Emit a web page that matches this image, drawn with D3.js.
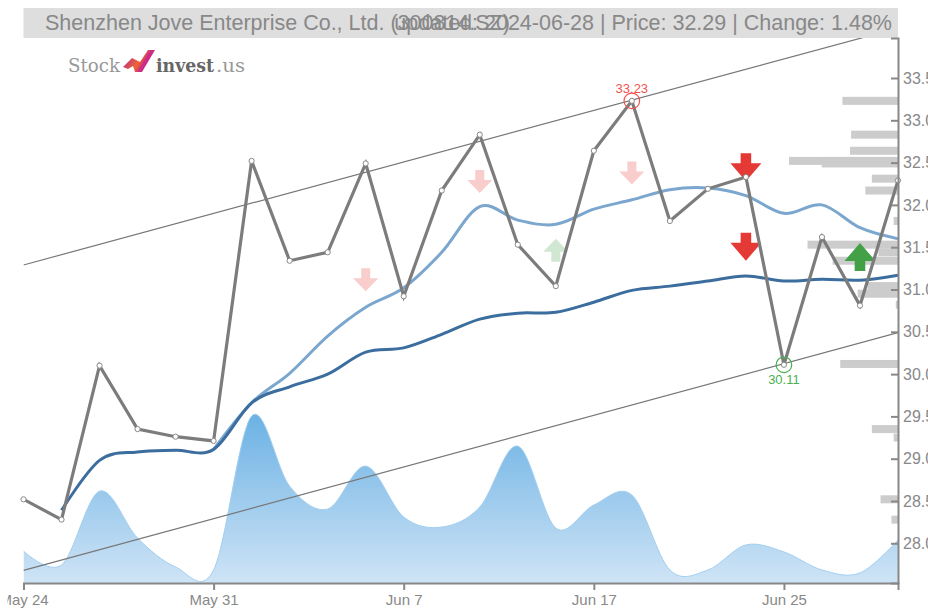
<!DOCTYPE html>
<html><head><meta charset="utf-8">
<script src="https://cdn.jsdelivr.net/npm/d3@7/dist/d3.min.js"></script>
<style>html,body{margin:0;padding:0;background:#fff;overflow:hidden}svg{display:block;font-family:"Liberation Sans",Arial,sans-serif}</style>
</head><body><div id="chart"></div>
<script>
const dates = ["May 24","May 27","May 28","May 29","May 30","May 31","Jun 3","Jun 4","Jun 5","Jun 6","Jun 7","Jun 11","Jun 12","Jun 13","Jun 14","Jun 17","Jun 18","Jun 19","Jun 20","Jun 21","Jun 25","Jun 26","Jun 27","Jun 28"];
const xTickLabels = ["May 24","May 31","Jun 7","Jun 17","Jun 25"];
const yTicks = [28,28.5,29,29.5,30,30.5,31,31.5,32,32.5,33,33.5];
const price = [28.52,28.28,30.10,29.35,29.26,29.21,32.52,31.34,31.44,32.49,30.92,32.17,32.83,31.53,31.04,32.64,33.23,31.81,32.19,32.33,30.11,31.62,30.81,32.29];
const maLong = [null,28.39,28.98,29.08,29.10,29.11,29.66,29.85,30.00,30.26,30.31,30.47,30.65,30.72,30.73,30.85,30.99,31.04,31.10,31.16,31.10,31.12,31.11,31.17];
const maShort = [null,null,null,null,null,29.11,29.66,30.01,30.45,30.79,31.02,31.44,31.98,31.82,31.77,31.95,32.06,32.18,32.20,32.11,31.90,32.00,31.73,31.60];
const volume = [1.92,1.08,5.5,2.69,0.96,0.78,10,5.8,4.43,7.0,3.95,3.35,4.55,8.2,3.29,4.67,5.27,0.78,0.78,2.28,1.86,0.78,0.6,2.57];
const upperTrend = [31.29,34.09];
const lowerTrend = [27.68,30.49];
const profilePrice = [33.23,32.83,32.64,32.52,32.49,32.31,32.17,31.81,31.53,31.44,31.34,31.04,30.95,30.82,30.12,29.35,29.25,28.52,28.28];
const profileVolume = [5.1,4.3,4.4,10,7,2.4,3,0.4,8.3,1.8,6,2.8,3.7,0.2,5.3,2.4,0.4,1.6,0.6];
const arrowIndex = [9,12,16,14,19,19,22];
const arrowPrice = [30.98,32.14,32.24,31.60,32.28,31.34,31.55];
const arrowDir = ["down","down","down","up","down","down","up"];
const arrowStrong = [false,false,false,false,true,true,true];
const highIndex = 16, lowIndex = 20;
const companyTitle = "Shenzhen Jove Enterprise Co., Ltd. (300814.SZ)";
const statusTitle = "updated: 2024-06-28 | Price: 32.29 | Change: 1.48%";

const W = 928, H = 610, L = 23.5, R = 898, T = 38, B = 583;
const svg = d3.select("#chart").append("svg").attr("width", W).attr("height", H);
const x = d3.scalePoint().domain(dates).range([L, R]);
const xi = i => x(dates[i]);
const y = d3.scaleLinear().domain([33.5 - (B - 78) / 84.6, 33.5 + (78 - T) / 84.6]).range([B, T]);
const v = d3.scaleLinear().domain([0, 10]).range([B, 416]);
const pv = d3.scaleLinear().domain([0, 10]).range([R, R - 109]);
const smooth = d3.curveCardinal.tension(0);

const defs = svg.append("defs");
defs.append("clipPath").attr("id", "plot").append("rect").attr("x", L).attr("y", T).attr("width", R - L).attr("height", B - T);
defs.append("clipPath").attr("id", "xclipLocal").append("rect").attr("x", 7.5).attr("y", -5).attr("width", W).attr("height", 40);
const g = defs.append("linearGradient").attr("id", "vol").attr("gradientUnits", "userSpaceOnUse").attr("x1", 0).attr("x2", 0).attr("y1", 416).attr("y2", B);
g.append("stop").attr("offset", 0).attr("stop-color", "#6cb2e4");
g.append("stop").attr("offset", 1).attr("stop-color", "#cfe4f6");
const lg = defs.append("linearGradient").attr("id", "logo").attr("x1", 0).attr("x2", 1).attr("y1", 0.2).attr("y2", 0.6);
lg.append("stop").attr("offset", 0).attr("stop-color", "#b0269b");
lg.append("stop").attr("offset", 0.55).attr("stop-color", "#f0652f");
lg.append("stop").attr("offset", 0.7).attr("stop-color", "#c92d86");
lg.append("stop").attr("offset", 1).attr("stop-color", "#d81b7a");

// title band
svg.append("rect").attr("x", L).attr("y", 8).attr("width", R - L).attr("height", 30).attr("fill", "#dedede");
svg.append("text").attr("x", 45).attr("y", 30).attr("font-size", 21.5).attr("fill", "#888").text(companyTitle);
svg.append("text").attr("x", 892).attr("y", 30).attr("font-size", 21.5).attr("fill", "#888").attr("text-anchor", "end").text(statusTitle);

// logo
const logo = svg.append("g");
const logoText = (tx, w, weight, fill, s) => logo.append("text").attr("x", tx).attr("y", 71.5)
  .attr("font-family", "DejaVu Serif").attr("font-weight", weight).attr("font-size", 19).attr("fill", fill)
  .attr("textLength", w).attr("lengthAdjust", "spacingAndGlyphs").text(s);
logoText(68, 52, "normal", "#999", "Stock");
logo.append("path").attr("d", "M123,67 L132,58 L140,62 L148,50 L155,50 L142,72 L135,72 L133,66 L128,69 Z").attr("fill", "url(#logo)");
logoText(156, 58, "bold", "#666", "invest");
logoText(216, 29, "normal", "#999", ".us");

const plot = svg.append("g").attr("clip-path", "url(#plot)");

// volume area
plot.append("path").datum(volume)
  .attr("d", d3.area().x((d, i) => xi(i)).y0(B).y1(d => v(d)).curve(smooth))
  .attr("fill", "url(#vol)");
plot.append("path").datum(volume)
  .attr("d", d3.line().x((d, i) => xi(i)).y(d => v(d)).curve(smooth))
  .attr("fill", "none").attr("stroke", "#a3cfef").attr("stroke-width", 1);

// volume-by-price bars
plot.selectAll("rect.profile").data(profilePrice).join("rect").attr("class", "profile")
  .attr("x", (d, i) => pv(profileVolume[i]))
  .attr("y", d => y(d) - 4)
  .attr("width", (d, i) => R - pv(profileVolume[i]))
  .attr("height", 8)
  .attr("fill", "#cccccc");

// channel
[upperTrend, lowerTrend].forEach(t => {
  plot.append("line").attr("x1", xi(0)).attr("x2", xi(dates.length - 1)).attr("y1", y(t[0])).attr("y2", y(t[1]))
    .attr("stroke", "#777").attr("stroke-width", 1.2);
});

// moving averages
const ma = d3.line().defined(d => d !== null).x((d, i) => xi(i)).y(d => y(d)).curve(smooth);
plot.append("path").attr("d", ma(maShort)).attr("fill", "none").attr("stroke", "#7ba7cf").attr("stroke-width", 3);
plot.append("path").attr("d", ma(maLong)).attr("fill", "none").attr("stroke", "#3b6d9f").attr("stroke-width", 3);

// arrows
function arrowPath(dir, strong) {
  const hw = strong ? 15.5 : 12.5, sw = strong ? 5.3 : 4.5, head = strong ? 18 : 13, tot = strong ? 28 : 23;
  const s = dir === "down" ? -1 : 1;
  return d3.line()([[0,0],[hw,s*head],[sw,s*head],[sw,s*tot],[-sw,s*tot],[-sw,s*head],[-hw,s*head]]) + "Z";
}
plot.selectAll("path.arrow").data(arrowIndex).join("path").attr("class", "arrow")
  .attr("transform", (d, i) => `translate(${xi(d)},${y(arrowPrice[i])})`)
  .attr("d", (d, i) => arrowPath(arrowDir[i], arrowStrong[i]))
  .attr("fill", (d, i) => arrowDir[i] === "down" ? "#e53935" : "#43a047")
  .attr("opacity", (d, i) => arrowStrong[i] ? 1 : 0.25);

// price
plot.append("path").datum(price).attr("d", d3.line().x((d, i) => xi(i)).y(d => y(d)))
  .attr("fill", "none").attr("stroke", "#7c7c7c").attr("stroke-width", 3.2);
svg.selectAll("circle.pt").data(price).join("circle").attr("class", "pt")
  .attr("cx", (d, i) => xi(i)).attr("cy", d => y(d)).attr("r", 2.6)
  .attr("fill", "#fff").attr("stroke", "#888").attr("stroke-width", 1);

// high / low
[[highIndex, "#ef5350", -8], [lowIndex, "#4caf50", 19]].forEach(([i, c, dy]) => {
  svg.append("circle").attr("cx", xi(i)).attr("cy", y(price[i])).attr("r", 7.8).attr("fill", "none").attr("stroke", c).attr("stroke-width", 1.2);
  svg.append("text").attr("x", xi(i)).attr("y", y(price[i]) + dy).attr("text-anchor", "middle").attr("font-size", 13).attr("fill", c).text(price[i].toFixed(2));
});

// axes
const yAxis = svg.append("g").attr("transform", `translate(${R},0)`)
  .call(d3.axisRight(y).tickValues(yTicks).tickFormat(d3.format(".1f")).tickSizeInner(-7).tickSizeOuter(-7).tickPadding(5));
const xAxis = svg.append("g").attr("transform", `translate(0,${B})`).attr("clip-path", "url(#xclipLocal)")
  .call(d3.axisBottom(x).tickValues(xTickLabels).tickSizeInner(7).tickSizeOuter(7).tickPadding(4));
[yAxis, xAxis].forEach(a => {
  a.selectAll("path,line").attr("stroke", "#888").attr("stroke-width", 2);
  a.selectAll("text").attr("fill", "#888");
  a.attr("font-family", null);
});
yAxis.selectAll("text").attr("font-size", 16);
xAxis.selectAll("text").attr("font-size", 15);
</script></body></html>
